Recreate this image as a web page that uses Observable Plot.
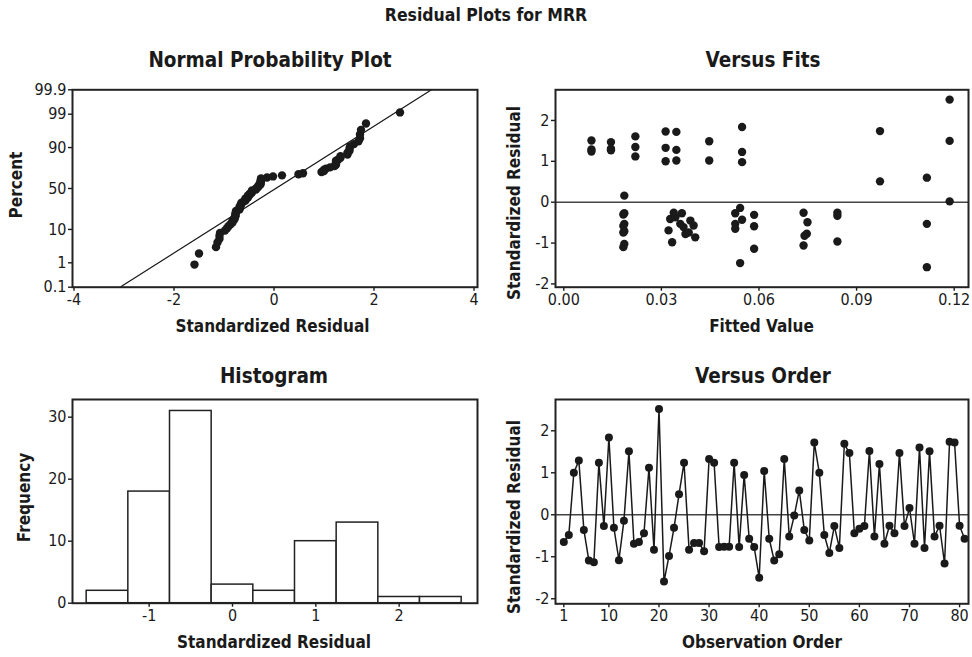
<!DOCTYPE html>
<html><head><meta charset="utf-8">
<script src="https://cdn.jsdelivr.net/npm/d3@7"></script>
<script src="https://cdn.jsdelivr.net/npm/@observablehq/plot@0.6"></script>
<style>
body{margin:0;background:#fff;}
#chart{position:relative;width:972px;height:657px;overflow:hidden;background:#fff;font-family:"DejaVu Sans Condensed","DejaVu Sans",sans-serif;}
#chart > svg{position:absolute;}
</style></head><body><div id="chart"></div>
<script>
// ---- data ----
const residuals = [
 -0.65,-0.48,1.00,1.29,-0.36,-1.09,-1.13,1.24,-0.27,1.84,
 -0.31,-1.08,-0.14,1.51,-0.69,-0.65,-0.44,1.12,-0.83,2.52,
 -1.59,-0.98,-0.31,0.49,1.24,-0.83,-0.67,-0.67,-0.87,1.33,
 1.24,-0.77,-0.76,-0.76,1.24,-0.77,0.95,-0.57,-0.77,-1.50,
 1.04,-0.57,-1.09,-0.94,1.33,-0.52,-0.02,0.58,-0.36,-0.61,
 1.72,1.00,-0.48,-0.91,-0.27,-0.79,1.69,1.47,-0.44,-0.33,
 -0.27,1.52,-0.52,1.21,-0.69,-0.26,-0.44,1.47,-0.27,0.16,
 -0.69,1.60,-0.79,1.51,-0.52,-0.26,-1.16,1.74,1.72,-0.26,
 -0.57];
const fitValues = [
 0.0085,0.0085,0.0085, 0.0145,0.0145,0.0145, 0.0220,0.0220,0.0220,
 0.0186,0.0186,0.0183,0.0186,0.0183,0.0186,0.0183,0.0186,0.0183,
 0.0313,0.0313,0.0313, 0.0346,0.0346,0.0346,
 0.0327,0.0338,0.0363,0.0343,0.0389,0.0399,0.0322,0.0368,0.0384,0.0404,0.0333,0.0374,0.0358,
 0.0447,0.0447,
 0.0548,0.0548,0.0548,
 0.0542,0.0527,0.0548,0.0527,0.0527,0.0542,
 0.0585,0.0585,0.0585,
 0.0737,0.0749,0.0747,0.0740,0.0737,
 0.0841,0.0841,0.0841,
 0.0972,0.0972,
 0.1116,0.1116,0.1116,
 0.1186,0.1186,0.1186];
const fitResiduals = [
 1.51,1.29,1.24, 1.47,1.31,1.27, 1.61,1.35,1.12,
 0.16,-0.27,-0.30,-0.53,-0.58,-0.71,-0.74,-1.02,-1.10,
 1.73,1.33,1.00, 1.72,1.28,1.02,
 -0.41,-0.26,-0.27,-0.37,-0.45,-0.57,-0.69,-0.61,-0.74,-0.86,-0.98,-0.78,-0.53,
 1.49,1.02,
 1.84,1.23,0.98,
 -0.14,-0.27,-0.43,-0.53,-0.65,-1.49,
 -0.31,-0.59,-1.14,
 -0.26,-0.49,-0.77,-0.82,-1.06,
 -0.26,-0.33,-0.96,
 1.74,0.51,
 0.60,-0.53,-1.59,
 2.51,1.50,0.02];
const histEdges = [-1.75,-1.25,-0.75,-0.25,0.25,0.75,1.25,1.75,2.25,2.75];
const histCounts = [2,18,31,3,2,10,13,1,1];
const probTicks = [0.1,1,10,50,90,99,99.9];
const residTicks = [-4,-2,0,2,4];
const fitTicks = [0,0.03,0.06,0.09,0.12];
const stdTicks = [-2,-1,0,1,2];
const histTicks = [-1,0,1,2];
const freqTicks = [0,10,20,30];
const orderTicks = [1,10,20,30,40,50,60,70,80];

// ---- helpers ----
function qnorm(p){
 const a=[-3.969683028665376e+01,2.209460984245205e+02,-2.759285104469687e+02,1.383577518672690e+02,-3.066479806614716e+01,2.506628277459239e+00];
 const b=[-5.447609879822406e+01,1.615858368580409e+02,-1.556989798598866e+02,6.680131188771972e+01,-1.328068155288572e+01];
 const c=[-7.784894002430293e-03,-3.223964580411365e-01,-2.400758277161838e+00,-2.549732539343734e+00,4.374664141464968e+00,2.938163982698783e+00];
 const d=[7.784695709041462e-03,3.224671290700398e-01,2.445134137142996e+00,3.754408661907416e+00];
 const pl=0.02425, ph=1-pl; let q,r;
 if(p<pl){q=Math.sqrt(-2*Math.log(p));return (((((c[0]*q+c[1])*q+c[2])*q+c[3])*q+c[4])*q+c[5])/((((d[0]*q+d[1])*q+d[2])*q+d[3])*q+1);}
 if(p<=ph){q=p-0.5;r=q*q;return (((((a[0]*r+a[1])*r+a[2])*r+a[3])*r+a[4])*r+a[5])*q/(((((b[0]*r+b[1])*r+b[2])*r+b[3])*r+b[4])*r+1);}
 q=Math.sqrt(-2*Math.log(1-p));return -(((((c[0]*q+c[1])*q+c[2])*q+c[3])*q+c[4])*q+c[5])/((((d[0]*q+d[1])*q+d[2])*q+d[3])*q+1);
}
const FONT = '"DejaVu Sans Condensed","DejaVu Sans",sans-serif';
const INK = "#1a1a1a";
const style = {fontFamily: FONT, fontSize: "16px", color: INK, background: "transparent", overflow: "visible"};
const axisOpts = {tickSize: 4, tickPadding: 2, strokeWidth: 1.4, label: null};
const fmtNum = d => String(d);
const chart = document.getElementById("chart");
function place(svg, left, top){ svg.style.left = left + "px"; svg.style.top = top + "px"; chart.appendChild(svg); }

// ---- Normal probability plot ----
const n = residuals.length;
const sorted = residuals.slice().sort((a,b)=>a-b);
const normData = sorted.map((r,i)=>({r, z: qnorm((i+1-0.3)/(n+0.4))}));
const mu = d3.mean(residuals), sd = d3.deviation(residuals);
const zLo = qnorm(0.001), zHi = qnorm(0.999);
const lineData = [zLo-0.3, zHi+0.3].map(z=>({z, r: mu + sd*z}));
const probZ = probTicks.map(p=>qnorm(p/100));
place(Plot.plot({
  width: 490, height: 270, marginLeft: 72, marginRight: 13, marginTop: 19.3, marginBottom: 53.3,
  style,
  x: {domain: [-4.03, 4.07]},
  y: {domain: [zLo, zHi]},
  marks: [
    Plot.line(lineData, {x: "r", y: "z", stroke: INK, strokeWidth: 1.2, clip: true}),
    Plot.dot(normData, {x: "r", y: "z", r: 4.2, fill: INK, stroke: "none"}),
    Plot.axisX({...axisOpts, ticks: residTicks, tickFormat: fmtNum}),
    Plot.axisY({...axisOpts, ticks: probZ, tickFormat: z => String(probTicks[probZ.findIndex(v=>Math.abs(v-z)<1e-9)])}),
    Plot.frame({stroke: "#222", strokeWidth: 2})
  ]
}), 0, 70);

// ---- Versus Fits ----
const fitsData = fitValues.map((f,i)=>({f, r: fitResiduals[i]}));
place(Plot.plot({
  width: 492, height: 270, marginLeft: 75, marginRight: 4, marginTop: 19.3, marginBottom: 53.3,
  style,
  x: {domain: [-0.00255, 0.1244]},
  y: {domain: [-2.08, 2.75]},
  marks: [
    Plot.ruleY([0], {stroke: "#444", strokeWidth: 1.6}),
    Plot.dot(fitsData, {x: "f", y: "r", r: 4.2, fill: INK, stroke: "none"}),
    Plot.axisX({...axisOpts, ticks: fitTicks, tickFormat: d3.format(".2f")}),
    Plot.axisY({...axisOpts, ticks: stdTicks, tickFormat: fmtNum}),
    Plot.frame({stroke: "#222", strokeWidth: 2})
  ]
}), 480, 70);

// ---- Histogram ----
const histData = histCounts.map((c,i)=>({x1: histEdges[i], x2: histEdges[i+1], c}));
place(Plot.plot({
  width: 490, height: 270, marginLeft: 72, marginRight: 13, marginTop: 19, marginBottom: 47.3,
  style,
  x: {domain: [-1.92, 2.94]},
  y: {domain: [0, 32.85]},
  marks: [
    Plot.rectY(histData, {x1: "x1", x2: "x2", y: "c", fill: "white", stroke: "#222", strokeWidth: 1.5}),
    Plot.axisX({...axisOpts, ticks: histTicks, tickFormat: fmtNum}),
    Plot.axisY({...axisOpts, ticks: freqTicks, tickFormat: fmtNum}),
    Plot.frame({stroke: "#222", strokeWidth: 2})
  ]
}), 0, 380);

// ---- Versus Order ----
const orderData = residuals.map((r,i)=>({o: i+1, r}));
place(Plot.plot({
  width: 492, height: 270, marginLeft: 75, marginRight: 4, marginTop: 19, marginBottom: 46.7,
  style,
  x: {domain: [-0.66, 81.78]},
  y: {domain: [-2.12, 2.745]},
  marks: [
    Plot.ruleY([0], {stroke: "#444", strokeWidth: 1.6}),
    Plot.line(orderData, {x: "o", y: "r", stroke: INK, strokeWidth: 1.5}),
    Plot.dot(orderData, {x: "o", y: "r", r: 4, fill: INK, stroke: "none"}),
    Plot.axisX({...axisOpts, ticks: orderTicks, tickFormat: fmtNum}),
    Plot.axisY({...axisOpts, ticks: stdTicks, tickFormat: fmtNum}),
    Plot.frame({stroke: "#222", strokeWidth: 2})
  ]
}), 480, 380);

// ---- titles and axis titles ----
const ov = d3.select(chart).append("svg").attr("width", 972).attr("height", 657)
  .style("left","0px").style("top","0px").style("pointer-events","none")
  .attr("font-family", FONT).attr("font-weight", "bold").attr("fill", INK).attr("text-anchor", "middle");
const texts = [
  {t: "Residual Plots for MRR", x: 486, y: 21, s: 17.5},
  {t: "Normal Probability Plot", x: 270, y: 66.5, s: 20.5},
  {t: "Versus Fits", x: 763, y: 66.5, s: 20.5},
  {t: "Histogram", x: 274, y: 383, s: 20.5},
  {t: "Versus Order", x: 763, y: 383, s: 20.5},
  {t: "Standardized Residual", x: 272.5, y: 332, s: 17},
  {t: "Fitted Value", x: 761.5, y: 332, s: 17},
  {t: "Standardized Residual", x: 274, y: 648, s: 17},
  {t: "Observation Order", x: 762, y: 648, s: 17},
  {t: "Percent", x: 22, y: 185, s: 17, rot: true},
  {t: "Frequency", x: 29.5, y: 497.5, s: 17, rot: true},
  {t: "Standardized Residual", x: 520, y: 300, s: 17, rot: true, start: true},
  {t: "Standardized Residual", x: 520, y: 614, s: 17, rot: true, start: true}
];
for (const d of texts) {
  ov.append("text").attr("font-size", d.s)
    .attr("text-anchor", d.start ? "start" : "middle")
    .attr("transform", d.rot ? `translate(${d.x},${d.y}) rotate(-90)` : `translate(${d.x},${d.y})`)
    .text(d.t);
}
</script></body></html>
